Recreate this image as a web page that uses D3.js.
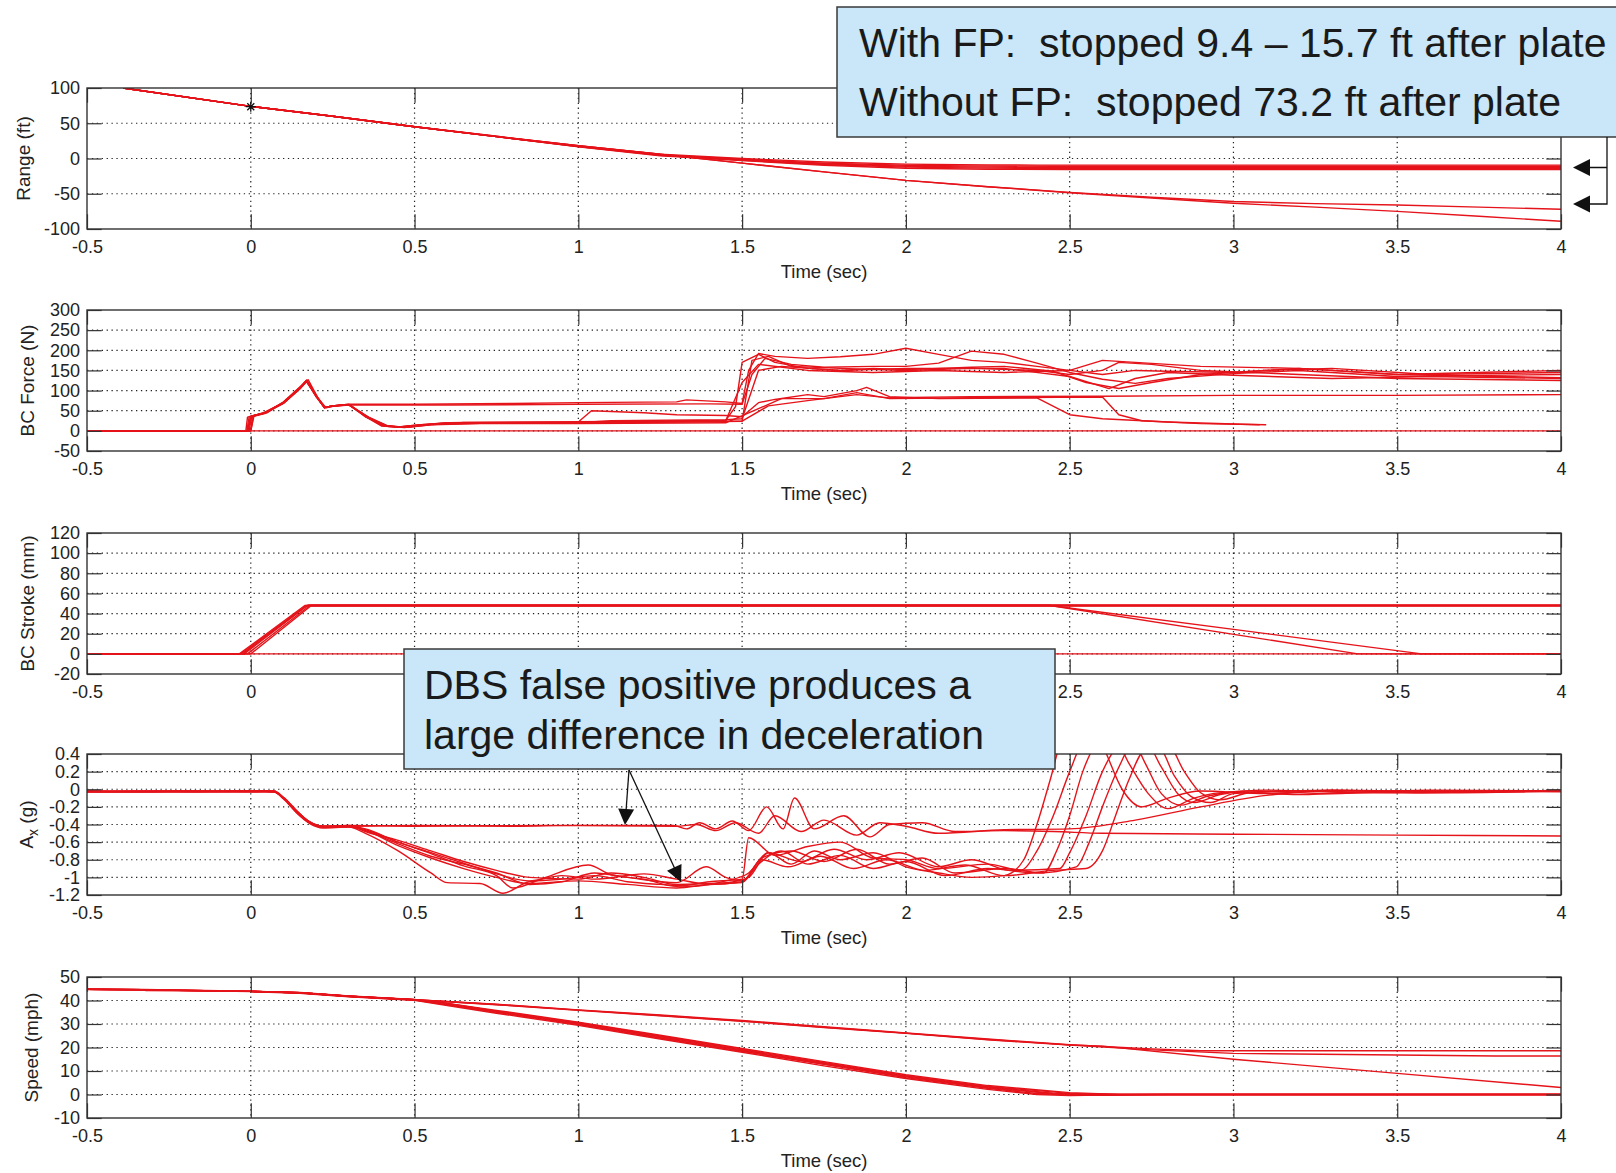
<!DOCTYPE html>
<head>
<meta charset="utf-8">
<title>Brake test traces</title>
<style>
  body { margin: 0; background: #fff; }
  svg text { font-family: "Liberation Sans", Arial, sans-serif; }
</style>
</head>

<script src="https://d3js.org/d3.v7.min.js"></script>

<div id="chart"></div>

<script>
// ---- data ----
var timeTicks = [-0.5, 0, 0.5, 1, 1.5, 2, 2.5, 3, 3.5, 4];

// Range (ft)
var rangeTicks = [-100, -50, 0, 50, 100];
var rangeWithFP = [
  [[-0.39,100],[0,74],[0.25,60],[0.5,45],[0.75,31],[1,18],[1.25,6],[1.5,0],[1.75,-5],[2,-8],[2.25,-9.2],[2.4,-9.4],[4,-9.4]],
  [[-0.39,100],[0,74],[0.25,60],[0.5,45],[0.75,31],[1,17.5],[1.25,5.5],[1.5,-1],[1.75,-6.5],[2,-9.5],[2.25,-10.8],[2.45,-11],[4,-11]],
  [[-0.39,100],[0,74],[0.25,60],[0.5,45],[0.75,31],[1,17],[1.25,5],[1.5,-2],[1.75,-7.5],[2,-11],[2.25,-12.3],[2.45,-12.5],[4,-12.5]],
  [[-0.39,100],[0,74],[0.25,60],[0.5,45],[0.75,31],[1,17],[1.25,4.5],[1.5,-2.5],[1.75,-8.5],[2,-12.3],[2.25,-13.7],[2.5,-14],[4,-14]],
  [[-0.39,100],[0,74],[0.25,60],[0.5,45],[0.75,31],[1,16.5],[1.25,4],[1.5,-3],[1.75,-9.5],[2,-13.8],[2.25,-15.3],[2.5,-15.7],[4,-15.7]]
];
var rangeNoFP = [
  [[-0.39,100],[0,74],[0.25,60],[0.5,45],[0.75,31.5],[1,18],[1.25,6],[1.5,-6.5],[1.75,-19],[2,-31],[2.25,-40],[2.5,-48],[2.75,-55],[3,-61],[3.25,-64],[3.5,-66],[3.75,-69],[4,-72]],
  [[-0.39,100],[0,74],[0.25,60],[0.5,45],[0.75,31.5],[1,18],[1.25,6],[1.5,-6.5],[1.75,-19],[2,-31],[2.25,-40],[2.5,-48.5],[2.75,-56],[3,-63.5],[3.25,-69],[3.5,-75],[3.75,-82],[4,-89]]
];
var rangeMarker = [0, 73.5];

// BC Force (N)
var forceTicks = [-50, 0, 50, 100, 150, 200, 250, 300];
var forceSeries = [
  [[-0.5,0],[-0.01,0],[0,36],[0.04,44],[0.1,70],[0.15,106],[0.17,124],[0.2,84],[0.225,58],[0.25,62],[0.3,66],[0.5,66],[0.8,68],[1,70],[1.3,72],[1.33,77],[1.45,72],[1.5,68],[1.52,150],[1.55,192],[1.6,185],[1.7,180],[1.8,184],[1.9,190],[2,205],[2.1,190],[2.2,175],[2.3,170],[2.4,160],[2.5,150],[2.6,140],[2.7,150],[2.8,148],[3,145],[3.2,155],[3.5,140],[4,132]],
  [[-0.5,0],[0,0],[0.01,38],[0.05,47],[0.1,72],[0.15,109],[0.175,127],[0.205,82],[0.23,57],[0.26,63],[0.3,64],[0.6,64],[1,66],[1.4,67],[1.5,66],[1.53,140],[1.57,180],[1.65,165],[1.75,158],[1.9,160],[2,160],[2.1,168],[2.2,198],[2.3,190],[2.4,168],[2.5,145],[2.6,128],[2.7,118],[2.8,130],[3,142],[3.2,150],[3.5,135],[4,140]],
  [[-0.5,0],[-0.015,0],[-0.01,34],[0.04,43],[0.1,68],[0.15,104],[0.17,122],[0.2,88],[0.225,59],[0.25,61],[0.3,64],[0.35,37],[0.4,13],[0.45,9],[0.5,14],[0.6,20],[0.9,22],[1.2,24],[1.45,26],[1.48,60],[1.5,170],[1.55,190],[1.6,170],[1.7,155],[1.8,150],[1.9,155],[2,152],[2.2,158],[2.3,160],[2.45,148],[2.55,120],[2.65,105],[2.75,120],[2.9,140],[3.1,150],[3.3,155],[3.6,140],[4,145]],
  [[-0.5,0],[0,0],[0.005,36],[0.05,46],[0.1,71],[0.15,108],[0.17,126],[0.2,87],[0.225,57],[0.25,62],[0.3,65],[0.35,35],[0.4,12],[0.47,8],[0.55,16],[0.7,19],[1,20],[1.3,22],[1.5,24],[1.53,175],[1.58,185],[1.65,160],[1.8,155],[2,150],[2.2,155],[2.4,150],[2.5,140],[2.6,150],[2.65,170],[2.75,165],[2.9,150],[3.2,140],[3.5,130],[4,125]],
  [[-0.5,0],[-0.01,0],[0,35],[0.04,44],[0.1,69],[0.15,105],[0.17,123],[0.2,85],[0.225,58],[0.25,61],[0.3,65],[0.36,33],[0.42,11],[0.48,9],[0.55,15],[0.65,21],[1,20],[1.1,25],[1.45,28],[1.5,30],[1.55,150],[1.62,160],[1.8,150],[2,155],[2.3,155],[2.5,135],[2.62,105],[2.7,130],[2.8,145],[3,138],[3.3,130],[3.6,135],[4,130]],
  [[-0.5,0],[-0.005,0],[0.003,37],[0.045,45],[0.1,70],[0.15,107],[0.172,125],[0.2,86],[0.225,58],[0.25,62],[0.3,66],[0.35,36],[0.4,14],[0.45,10],[0.52,15],[0.6,19],[1,21],[1.45,25],[1.5,120],[1.55,165],[1.7,150],[1.9,145],[2.1,150],[2.3,145],[2.5,150],[2.6,175],[2.7,170],[2.9,160],[3.2,155],[3.5,140],[4,150]],
  [[-0.5,0],[-0.012,0],[-0.005,35],[0.04,44],[0.1,69],[0.15,106],[0.17,124],[0.2,86],[0.225,58],[0.25,62],[0.3,65],[0.35,38],[0.4,14],[0.45,10],[0.5,13],[0.6,20],[1,22],[1.04,50],[1.2,45],[1.3,40],[1.45,38],[1.5,35],[1.55,70],[1.6,78],[1.7,90],[1.75,85],[1.85,100],[1.88,108],[1.95,85],[2.1,80],[2.4,82],[2.5,40],[2.6,30],[2.8,22],[3,17],[3.08,15]],
  [[-0.5,0],[0,0],[0.008,36],[0.05,45],[0.1,70],[0.15,107],[0.17,125],[0.2,86],[0.225,58],[0.25,62],[0.3,64],[0.36,34],[0.42,12],[0.47,9],[0.55,15],[0.7,18],[1,18],[1.45,20],[1.55,55],[1.62,80],[1.75,80],[1.85,95],[1.95,80],[2.2,82],[2.6,84],[2.65,40],[2.72,25],[2.9,18],[3.1,15]],
  [[-0.5,0],[-0.008,0],[0,36],[0.04,45],[0.1,70],[0.15,107],[0.17,125],[0.2,86],[0.225,58],[0.25,62],[0.3,65],[0.35,35],[0.41,13],[0.46,10],[0.55,16],[0.7,20],[1,20],[1.4,24],[1.5,24],[1.58,62],[1.7,75],[1.85,90],[1.95,82],[2.2,85],[2.6,86],[3,88],[3.5,88],[4,90]],
  [[-0.5,0],[4,0]]
];

// BC Stroke (mm)
var strokeTicks = [-20, 0, 20, 40, 60, 80, 100, 120];
var strokeSeries = [
  [[-0.5,0],[-0.03,0],[0.17,48],[4,48]],
  [[-0.5,0],[-0.02,0],[0.175,48.5],[4,48.5]],
  [[-0.5,0],[-0.01,0],[0.18,48],[2.44,48],[3.38,0],[4,0]],
  [[-0.5,0],[-0.035,0],[0.165,48],[2.44,48],[3.575,0],[4,0]],
  [[-0.5,0],[0,0],[0.185,48],[4,48]],
  [[-0.5,0],[-0.025,0],[0.17,47.5],[4,47.5]],
  [[-0.5,0],[4,0]]
];

// Ax (g)
var accelTicks = [-1.2, -1, -0.8, -0.6, -0.4, -0.2, 0, 0.2, 0.4];
var accelSeries = [
  [[-0.5,-0.02],[-0.35,-0.03],[-0.2,-0.02],[0,-0.02],[0.07,-0.03],[0.1,-0.1],[0.14,-0.25],[0.18,-0.37],[0.22,-0.42],[0.3,-0.42],[0.5,-0.41],[0.8,-0.42],[1,-0.41],[1.29,-0.41],[1.33,-0.45],[1.37,-0.38],[1.42,-0.45],[1.47,-0.36],[1.52,-0.47],[1.575,-0.2],[1.625,-0.45],[1.66,-0.1],[1.72,-0.45],[1.81,-0.3],[1.89,-0.54],[1.95,-0.4],[2.05,-0.38],[2.15,-0.48],[2.3,-0.47],[2.45,-0.48],[2.6,-0.5],[3,-0.51],[3.5,-0.52],[4,-0.53]],
  [[-0.5,-0.03],[-0.3,-0.02],[0,-0.03],[0.07,-0.02],[0.1,-0.09],[0.14,-0.24],[0.18,-0.38],[0.22,-0.43],[0.3,-0.41],[0.5,-0.42],[0.9,-0.41],[1.3,-0.42],[1.36,-0.4],[1.42,-0.47],[1.48,-0.38],[1.55,-0.5],[1.6,-0.3],[1.68,-0.48],[1.75,-0.35],[1.85,-0.52],[1.92,-0.38],[2,-0.42],[2.1,-0.5],[2.3,-0.46],[2.5,-0.45],[2.7,-0.35],[2.9,-0.2],[3.1,-0.07],[3.3,-0.02],[4,-0.02]],
  [[-0.5,-0.02],[-0.25,-0.03],[0,-0.02],[0.07,-0.03],[0.1,-0.11],[0.14,-0.27],[0.18,-0.39],[0.22,-0.44],[0.3,-0.43],[0.35,-0.5],[0.45,-0.7],[0.55,-0.95],[0.6,-1.06],[0.7,-1.07],[0.77,-1.18],[0.85,-1.05],[0.95,-1.02],[1.05,-0.98],[1.15,-1.05],[1.25,-1.08],[1.35,-1.1],[1.45,-1.04],[1.52,-0.95],[1.58,-0.72],[1.65,-0.85],[1.72,-0.7],[1.8,-0.8],[1.9,-0.72],[2,-0.88],[2.1,-0.95],[2.2,-1],[2.3,-0.98],[2.36,-0.8],[2.4,-0.4],[2.44,0.1],[2.48,0.6],[2.55,0.8],[2.6,0.5],[2.66,0],[2.72,-0.2],[2.8,-0.1],[2.9,-0.02],[3.1,-0.05],[3.3,-0.01],[3.6,-0.04],[4,-0.02]],
  [[-0.5,-0.03],[-0.2,-0.02],[0,-0.03],[0.07,-0.03],[0.1,-0.1],[0.14,-0.26],[0.18,-0.38],[0.22,-0.43],[0.3,-0.42],[0.35,-0.46],[0.45,-0.6],[0.55,-0.73],[0.65,-0.87],[0.75,-0.98],[0.8,-1.12],[0.9,-1],[1.03,-0.86],[1.1,-0.97],[1.2,-1.02],[1.3,-1.1],[1.4,-1.05],[1.5,-1.02],[1.52,-0.55],[1.6,-0.75],[1.7,-0.65],[1.8,-0.6],[1.9,-0.78],[2,-0.8],[2.1,-0.9],[2.25,-0.85],[2.35,-0.92],[2.4,-0.7],[2.45,-0.3],[2.5,0.2],[2.55,0.6],[2.62,0.7],[2.68,0.3],[2.74,-0.05],[2.8,-0.22],[2.88,-0.1],[3,-0.03],[3.2,-0.06],[3.5,-0.02],[4,-0.03]],
  [[-0.5,-0.02],[-0.4,-0.03],[0,-0.02],[0.07,-0.02],[0.1,-0.1],[0.14,-0.25],[0.18,-0.37],[0.22,-0.42],[0.3,-0.42],[0.35,-0.47],[0.45,-0.62],[0.55,-0.76],[0.65,-0.85],[0.75,-0.95],[0.85,-1.08],[0.95,-1.05],[1.05,-0.95],[1.15,-1],[1.3,-1.06],[1.39,-0.88],[1.45,-1],[1.5,-1.04],[1.56,-0.78],[1.65,-0.7],[1.75,-0.82],[1.85,-0.68],[1.95,-0.85],[2.05,-0.78],[2.15,-0.95],[2.3,-0.9],[2.42,-0.95],[2.46,-0.7],[2.5,-0.3],[2.54,0.2],[2.6,0.6],[2.67,0.7],[2.73,0.3],[2.78,-0.05],[2.84,-0.18],[2.92,-0.08],[3.05,-0.02],[3.3,-0.05],[3.6,-0.01],[4,-0.02]],
  [[-0.5,-0.03],[-0.3,-0.03],[0,-0.02],[0.07,-0.03],[0.1,-0.1],[0.14,-0.25],[0.18,-0.38],[0.22,-0.42],[0.3,-0.41],[0.35,-0.48],[0.45,-0.58],[0.55,-0.7],[0.65,-0.82],[0.75,-0.92],[0.85,-1],[1,-1.02],[1.1,-0.95],[1.2,-1],[1.3,-1.08],[1.45,-1.06],[1.52,-1],[1.58,-0.72],[1.68,-0.82],[1.78,-0.68],[1.88,-0.8],[1.98,-0.72],[2.1,-0.88],[2.2,-0.8],[2.32,-0.92],[2.47,-0.9],[2.5,-0.72],[2.55,-0.3],[2.6,0.2],[2.65,0.5],[2.72,0.6],[2.78,0.25],[2.83,-0.05],[2.88,-0.15],[2.96,-0.06],[3.1,-0.01],[3.4,-0.04],[4,-0.02]],
  [[-0.5,-0.02],[-0.15,-0.03],[0,-0.02],[0.07,-0.02],[0.1,-0.1],[0.14,-0.26],[0.18,-0.38],[0.22,-0.43],[0.3,-0.42],[0.35,-0.45],[0.45,-0.6],[0.55,-0.72],[0.65,-0.84],[0.75,-0.96],[0.85,-1.04],[0.95,-0.98],[1.05,-1.02],[1.2,-0.96],[1.3,-1.02],[1.4,-1.08],[1.5,-1.05],[1.55,-0.85],[1.62,-0.7],[1.7,-0.85],[1.8,-0.75],[1.9,-0.9],[2,-0.82],[2.12,-0.98],[2.25,-0.9],[2.4,-0.95],[2.52,-0.88],[2.56,-0.6],[2.6,-0.2],[2.65,0.25],[2.7,0.55],[2.77,0.5],[2.82,0.15],[2.87,-0.08],[2.93,-0.15],[3,-0.05],[3.2,-0.02],[3.5,-0.04],[4,-0.01]],
  [[-0.5,-0.03],[-0.35,-0.02],[0,-0.03],[0.07,-0.03],[0.1,-0.1],[0.14,-0.25],[0.18,-0.37],[0.22,-0.42],[0.3,-0.43],[0.35,-0.47],[0.45,-0.64],[0.55,-0.78],[0.65,-0.9],[0.75,-1],[0.85,-1.07],[1,-1.04],[1.15,-1.08],[1.3,-1.12],[1.4,-1.08],[1.5,-1.06],[1.56,-0.8],[1.64,-0.88],[1.74,-0.76],[1.84,-0.9],[1.94,-0.8],[2.06,-0.92],[2.18,-0.86],[2.3,-0.98],[2.45,-0.92],[2.55,-0.9],[2.6,-0.7],[2.64,-0.3],[2.68,0.1],[2.73,0.45],[2.8,0.5],[2.85,0.2],[2.9,-0.04],[2.96,-0.12],[3.05,-0.04],[3.3,-0.01],[3.7,-0.03],[4,-0.02]]
];

// Speed (mph)
var speedTicks = [-10, 0, 10, 20, 30, 40, 50];
var speedSeries = [
  [[-0.5,44.8],[-0.33,44.6],[-0.32,44.2],[0,43.9],[0.15,43.3],[0.3,41.8],[0.5,40.3],[0.6,38.6],[0.75,35.4],[1,30.4],[1.25,24.6],[1.5,19],[1.75,13.3],[2,7.8],[2.25,3.2],[2.45,0.6],[2.6,0],[4,0]],
  [[-0.5,44.8],[-0.33,44.7],[0,44],[0.15,43.2],[0.3,41.7],[0.5,40.2],[0.6,38.2],[0.75,35],[1,29.8],[1.25,24],[1.5,18.4],[1.75,12.8],[2,7.2],[2.25,2.6],[2.4,0.4],[2.55,-0.2],[2.75,0],[4,0]],
  [[-0.5,44.7],[-0.33,44.5],[0,43.8],[0.15,43.4],[0.3,41.9],[0.5,40.4],[0.6,38.8],[0.75,35.8],[1,30.8],[1.25,25.2],[1.5,19.6],[1.75,14],[2,8.4],[2.25,3.8],[2.5,0.8],[2.65,0],[4,0]],
  [[0,43.7],[0.15,43.1],[0.3,41.6],[0.5,40.1],[0.6,37.9],[0.75,34.6],[1,29.4],[1.25,23.6],[1.5,18],[1.75,12.2],[2,6.8],[2.25,2.2],[2.4,0],[2.5,-0.4],[2.7,0],[4,0]],
  [[0,43.9],[0.15,43.3],[0.3,41.8],[0.5,40.3],[0.6,38.4],[0.75,35.2],[1,30],[1.25,24.2],[1.5,18.6],[1.75,13],[2,7.5],[2.25,2.9],[2.45,0.3],[2.6,-0.3],[2.8,0],[4,0]],
  [[-0.5,44.8],[-0.33,44.6],[0,43.9],[0.15,43.3],[0.3,41.8],[0.5,40.3],[0.6,38.7],[0.75,35.5],[1,30.6],[1.25,24.9],[1.5,19.3],[1.75,13.6],[2,8],[2.25,3.4],[2.5,0.5],[2.7,0],[4,0]],
  [[-0.5,44.8],[-0.33,44.6],[0,43.9],[0.15,43.3],[0.3,41.8],[0.5,40.3],[0.75,38.4],[1,36],[1.25,33.8],[1.5,31.5],[1.75,28.8],[2,26.2],[2.25,23.6],[2.5,21.2],[2.75,19.4],[2.9,18.6],[4,18.6]],
  [[-0.5,44.8],[-0.33,44.6],[0,43.9],[0.15,43.3],[0.3,41.8],[0.5,40.3],[0.75,38.2],[1,35.8],[1.25,33.5],[1.5,31.2],[1.75,28.5],[2,26],[2.25,23.3],[2.5,21],[2.75,19],[3,17.5],[3.5,16.8],[3.8,16.4],[4,16.4]],
  [[-0.5,44.8],[-0.33,44.6],[0,43.9],[0.15,43.3],[0.3,41.8],[0.5,40.3],[0.75,38.3],[1,35.9],[1.25,33.6],[1.5,31.3],[1.75,28.6],[2,26.1],[2.25,23.4],[2.5,21.1],[2.6,20.6],[3,15],[3.5,9],[4,3]]
];

// ---- layout ----
var W = 1616, H = 1173;
var x0 = 87, x1 = 1561, panelH = 141, tickLen = 14.7;
var panelTops = [88, 310, 533, 754, 977];
var red = "#e5131a";

// the lower callout box hides part of the BC Stroke time axis
var strokeHiddenTicks = [0.5, 1, 1.5, 2];

var panels = [
  {label: "Range (ft)", labelX: 29.5, ticks: rangeTicks, series: rangeWithFP.concat(rangeNoFP), curve: d3.curveLinear},
  {label: "BC Force (N)", labelX: 33.5, ticks: forceTicks, series: forceSeries, curve: d3.curveLinear},
  {label: "BC Stroke (mm)", labelX: 33.5, ticks: strokeTicks, series: strokeSeries, curve: d3.curveLinear, hidden: strokeHiddenTicks},
  {label: null, labelX: 32.5, ticks: accelTicks, series: accelSeries, curve: d3.curveMonotoneX},
  {label: "Speed (mph)", labelX: 37.5, ticks: speedTicks, series: speedSeries, curve: d3.curveLinear}
];

var svg = d3.select("#chart")
  .append("svg")
  .attr("width", W)
  .attr("height", H);

var x = d3.scaleLinear().domain([-0.5, 4]).range([x0, x1]);

panels.forEach(function(p, i) {
  var top = panelTops[i], bottom = top + panelH;
  var y = d3.scaleLinear().domain(d3.extent(p.ticks)).range([bottom, top]);
  var g = svg.append("g");

  // clip for the traces
  g.append("clipPath").attr("id", "clip" + i)
    .append("rect").attr("x", x0).attr("y", top).attr("width", x1 - x0).attr("height", panelH);

  // dotted grid
  g.append("g").selectAll("line").data(p.ticks.slice(1, -1)).enter().append("line")
    .attr("x1", x0).attr("x2", x1)
    .attr("y1", function(d) { return y(d); }).attr("y2", function(d) { return y(d); })
    .attr("stroke", "#222").attr("stroke-width", 1.2).attr("stroke-dasharray", "1.3,3.6");
  g.append("g").selectAll("line").data(timeTicks.slice(1, -1)).enter().append("line")
    .attr("y1", top).attr("y2", bottom)
    .attr("x1", function(d) { return x(d); }).attr("x2", function(d) { return x(d); })
    .attr("stroke", "#222").attr("stroke-width", 1.2).attr("stroke-dasharray", "1.3,3.6");

  // traces
  var line = d3.line().curve(p.curve)
    .x(function(d) { return x(d[0]); }).y(function(d) { return y(d[1]); });
  g.append("g").attr("clip-path", "url(#clip" + i + ")")
    .selectAll("path").data(p.series).enter().append("path")
    .attr("d", line)
    .attr("fill", "none")
    .attr("stroke", red)
    .attr("stroke-width", 1.4)
    .attr("stroke-linejoin", "round");

  // axes, MATLAB style: ticks pointing in on all four sides
  var fmt = function(d) { return String(d); };
  var xfmt = function(d) { return p.hidden && p.hidden.indexOf(d) >= 0 ? "" : String(d); };
  var left = g.append("g").attr("transform", "translate(" + x0 + ",0)")
    .call(d3.axisLeft(y).tickValues(p.ticks).tickFormat(fmt).tickSize(-tickLen).tickPadding(7));
  var right = g.append("g").attr("transform", "translate(" + x1 + ",0)")
    .call(d3.axisRight(y).tickValues(p.ticks).tickFormat("").tickSize(-tickLen));
  var bot = g.append("g").attr("transform", "translate(0," + bottom + ")")
    .call(d3.axisBottom(x).tickValues(timeTicks).tickFormat(xfmt).tickSize(-tickLen).tickPadding(11));
  var topAx = g.append("g").attr("transform", "translate(0," + top + ")")
    .call(d3.axisTop(x).tickValues(timeTicks).tickFormat("").tickSize(-tickLen));
  [left, right, bot, topAx].forEach(function(a) {
    a.select(".domain").remove();
    a.selectAll(".tick line").attr("stroke", "#333").attr("stroke-width", 1.2);
    a.selectAll("text").attr("font-size", 18).attr("fill", "#222")
      .attr("font-family", "Liberation Sans, Arial, sans-serif");
  });

  g.append("rect")
    .attr("x", x0).attr("y", top).attr("width", x1 - x0).attr("height", panelH)
    .attr("fill", "none").attr("stroke", "#333").attr("stroke-width", 1.4);

  // axis labels (the BC Stroke one sits under the callout box)
  if (!p.hidden) {
    g.append("text")
      .attr("x", (x0 + x1) / 2).attr("y", bottom + 49)
      .attr("text-anchor", "middle").attr("font-size", 18.5).attr("fill", "#222")
      .text("Time (sec)");
  }

  var yl = g.append("text")
    .attr("transform", "translate(" + p.labelX + "," + (top + panelH / 2) + ") rotate(-90)")
    .attr("text-anchor", "middle").attr("font-size", 19).attr("fill", "#222");
  if (p.label) {
    yl.text(p.label);
  } else {
    yl.append("tspan").text("A");
    yl.append("tspan").attr("dy", 5).attr("font-size", 14).text("x");
    yl.append("tspan").attr("dy", -5).text(" (g)");
  }

  // the black star on the range trace at t = 0
  if (i === 0) {
    var mx = x(rangeMarker[0]), my = y(rangeMarker[1]), r = 5;
    g.append("path")
      .attr("d", "M" + (mx - r) + "," + my + "H" + (mx + r) +
                 "M" + mx + "," + (my - r) + "V" + (my + r) +
                 "M" + (mx - r * 0.7) + "," + (my - r * 0.7) + "L" + (mx + r * 0.7) + "," + (my + r * 0.7) +
                 "M" + (mx - r * 0.7) + "," + (my + r * 0.7) + "L" + (mx + r * 0.7) + "," + (my - r * 0.7))
      .attr("stroke", "#111").attr("stroke-width", 1.3);
  }
});

// ---- callouts ----
function arrowHead(tx, ty, fx, fy, len, half) {
  var dx = tx - fx, dy = ty - fy, L = Math.sqrt(dx * dx + dy * dy);
  var ux = dx / L, uy = dy / L;
  var bx = tx - ux * len, by = ty - uy * len;
  return "M" + tx + "," + ty + "L" + (bx - uy * half) + "," + (by + ux * half) +
         "L" + (bx + uy * half) + "," + (by - ux * half) + "Z";
}

var ann = svg.append("g");
var boxFill = "#c9e7f8";

ann.append("rect")
  .attr("x", 837).attr("y", 7).attr("width", 800).attr("height", 130)
  .attr("fill", boxFill).attr("stroke", "#3a3a3a").attr("stroke-width", 1.5);
ann.selectAll("text.top").data(["With FP:  stopped 9.4 \u2013 15.7 ft after plate",
                                 "Without FP:  stopped 73.2 ft after plate"])
  .enter().append("text")
  .attr("x", 859).attr("y", function(d, k) { return 57 + k * 58.5; })
  .attr("font-size", 41).attr("fill", "#1a1a1a")
  .style("white-space", "pre")
  .text(function(d) { return d; });

// bracket + arrows to the two stop levels
ann.append("path")
  .attr("d", "M1607,137V204H1589M1607,167.5H1589")
  .attr("fill", "none").attr("stroke", "#111").attr("stroke-width", 1.3);
ann.append("path").attr("d", arrowHead(1573, 167.5, 1600, 167.5, 17, 8.5)).attr("fill", "#111");
ann.append("path").attr("d", arrowHead(1573, 204, 1600, 204, 17, 8.5)).attr("fill", "#111");

ann.append("rect")
  .attr("x", 404).attr("y", 649).attr("width", 651).attr("height", 120)
  .attr("fill", boxFill).attr("stroke", "#3a3a3a").attr("stroke-width", 1.5);
ann.selectAll("text.mid").data(["DBS false positive produces a",
                                 "large difference in deceleration"])
  .enter().append("text")
  .attr("x", 424).attr("y", function(d, k) { return 699 + k * 50; })
  .attr("font-size", 41).attr("fill", "#1a1a1a")
  .text(function(d) { return d; });

[[625, 825], [681, 882]].forEach(function(t) {
  var fx = 629, fy = 770;
  var dx = t[0] - fx, dy = t[1] - fy, L = Math.sqrt(dx * dx + dy * dy);
  ann.append("line")
    .attr("x1", fx).attr("y1", fy)
    .attr("x2", t[0] - dx / L * 14).attr("y2", t[1] - dy / L * 14)
    .attr("stroke", "#111").attr("stroke-width", 1.3);
  ann.append("path").attr("d", arrowHead(t[0], t[1], fx, fy, 16, 8)).attr("fill", "#111");
});
</script>
